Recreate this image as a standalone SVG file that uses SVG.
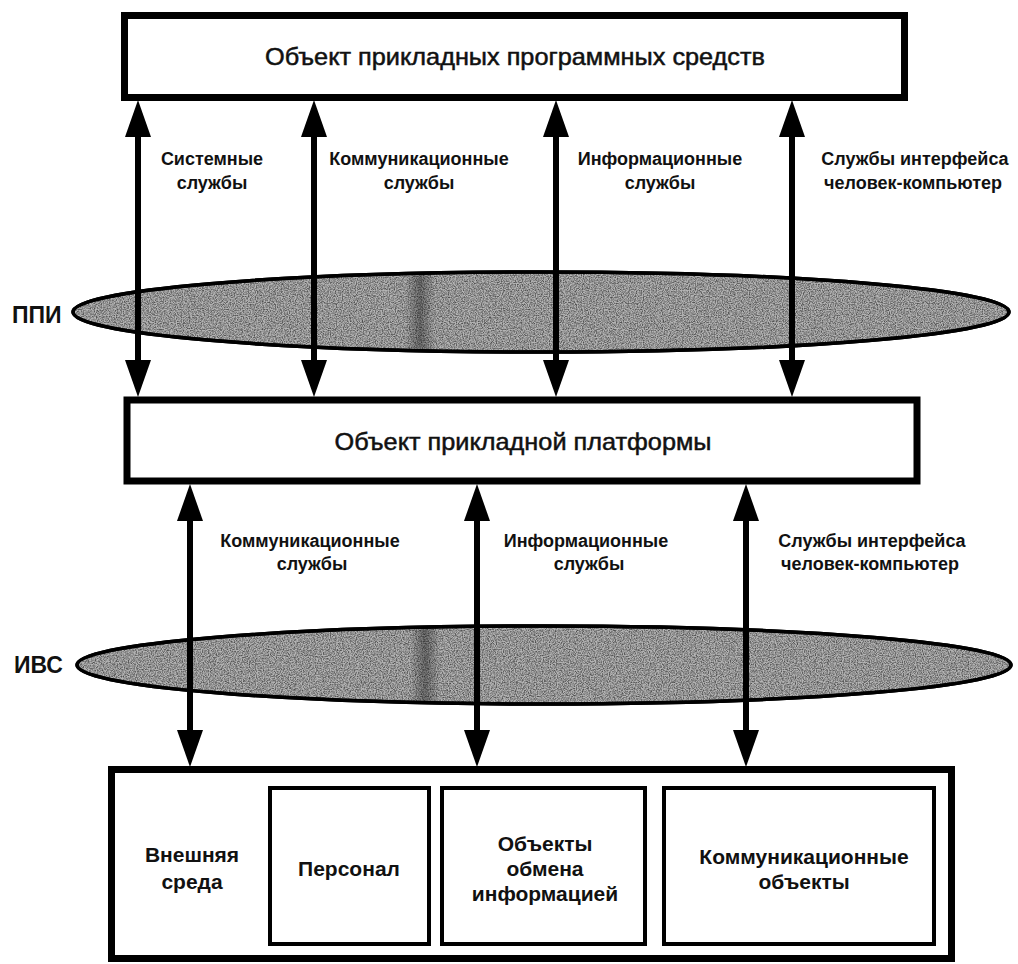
<svg xmlns="http://www.w3.org/2000/svg" width="1018" height="964" viewBox="0 0 1018 964">
  <style>
    .box { fill: #fff; stroke: #000; stroke-width: 7; }
    .inner { fill: #fff; stroke: #000; stroke-width: 4; }
    .title { font-family: "Liberation Sans", Arial, sans-serif; font-size: 24px; fill: #111; stroke: #111; stroke-width: 0.5; text-anchor: middle; }
    .lbl { font-family: "Liberation Sans", Arial, sans-serif; font-size: 18px; font-weight: bold; fill: #111; text-anchor: middle; }
    .big { font-family: "Liberation Sans", Arial, sans-serif; font-size: 21px; font-weight: bold; fill: #111; text-anchor: middle; }
    .side { font-family: "Liberation Sans", Arial, sans-serif; font-size: 23px; font-weight: bold; fill: #111; }
    .layer { fill: #b4b4b4; stroke: #000; stroke-width: 3.5; }
    .rim { fill: none; stroke: #000; stroke-width: 3.5; }
    .arrow { stroke: #000; stroke-width: 6; fill: none; marker-start: url(#head); marker-end: url(#head); }
  </style>
  <defs>
    <marker id="head" viewBox="0 -13 37 26" refX="0" refY="0" markerWidth="37" markerHeight="26" markerUnits="userSpaceOnUse" orient="auto-start-reverse">
      <path d="M0,-13 L37,0 L0,13 z" fill="#000"/>
    </marker>
    <!-- halftone-like stipple for the layer bands -->
    <filter id="grain" x="0" y="0" width="100%" height="100%">
      <feTurbulence type="fractalNoise" baseFrequency="0.85" numOctaves="2" seed="7" result="n"/>
      <feColorMatrix in="n" type="matrix" values="0 0 0 0 0  0 0 0 0 0  0 0 0 0 0  0 0 0 2.2 -0.75" result="dots"/>
      <feComposite in="dots" in2="SourceGraphic" operator="in"/>
    </filter>
    <linearGradient id="band" x1="0" x2="1" y1="0" y2="0">
      <stop offset="0" stop-color="#000" stop-opacity="0"/>
      <stop offset="0.5" stop-color="#000" stop-opacity="0.35"/>
      <stop offset="1" stop-color="#000" stop-opacity="0"/>
    </linearGradient>
    <clipPath id="clipPPI"><ellipse cx="541" cy="312" rx="468" ry="40"/></clipPath>
    <clipPath id="clipIVS"><ellipse cx="544" cy="665" rx="467" ry="39"/></clipPath>
  </defs>

  <!-- interface layers -->
  <g id="ppi">
    <ellipse class="layer" cx="541" cy="312" rx="468" ry="40"/>
    <ellipse cx="541" cy="312" rx="468" ry="40" fill="#000" filter="url(#grain)" opacity="0.55"/>
    <rect x="405" y="268" width="30" height="90" fill="url(#band)" clip-path="url(#clipPPI)"/>
    <ellipse class="rim" cx="541" cy="312" rx="468" ry="40"/>
    <text class="side" x="12" y="323">ППИ</text>
  </g>
  <g id="ivs">
    <ellipse class="layer" cx="544" cy="665" rx="467" ry="39"/>
    <ellipse cx="544" cy="665" rx="467" ry="39" fill="#000" filter="url(#grain)" opacity="0.55"/>
    <rect x="410" y="622" width="30" height="90" fill="url(#band)" clip-path="url(#clipIVS)"/>
    <ellipse class="rim" cx="544" cy="665" rx="467" ry="39"/>
    <text class="side" x="14" y="673">ИВС</text>
  </g>

  <!-- boxes -->
  <g id="app-software">
    <rect class="box" x="124.5" y="15.5" width="780" height="82"/>
    <text class="title" x="515" y="65" textLength="500" lengthAdjust="spacingAndGlyphs">Объект прикладных программных средств</text>
  </g>
  <g id="app-platform">
    <rect class="box" x="127" y="400" width="790" height="81"/>
    <text class="title" x="523" y="450" textLength="377" lengthAdjust="spacingAndGlyphs">Объект прикладной платформы</text>
  </g>
  <g id="environment">
    <rect class="box" x="111.5" y="769.5" width="840" height="189"/>
    <text class="big" x="192" y="862">Внешняя</text>
    <text class="big" x="192" y="889">среда</text>
  </g>
  <g id="personnel">
    <rect class="inner" x="270" y="788" width="159" height="156"/>
    <text class="big" x="349" y="876">Персонал</text>
  </g>
  <g id="info-exchange">
    <rect class="inner" x="442" y="788" width="203" height="156"/>
    <text class="big" x="545" y="851">Объекты</text>
    <text class="big" x="545" y="876">обмена</text>
    <text class="big" x="545" y="901">информацией</text>
  </g>
  <g id="comm-objects">
    <rect class="inner" x="664" y="788" width="270" height="156"/>
    <text class="big" x="804" y="864">Коммуникационные</text>
    <text class="big" x="804" y="889">объекты</text>
  </g>

  <!-- connectors -->
  <g id="connectors">
    <line class="arrow" x1="138" y1="137" x2="138" y2="360"/>
    <line class="arrow" x1="314" y1="137" x2="314" y2="360"/>
    <line class="arrow" x1="556" y1="137" x2="556" y2="360"/>
    <line class="arrow" x1="792" y1="137" x2="792" y2="360"/>
    <line class="arrow" x1="190" y1="521" x2="190" y2="730"/>
    <line class="arrow" x1="477" y1="521" x2="477" y2="730"/>
    <line class="arrow" x1="746" y1="521" x2="746" y2="730"/>
  </g>

  <!-- connector labels -->
  <g id="labels">
    <text class="lbl" x="212" y="165">Системные</text>
    <text class="lbl" x="212" y="189">службы</text>
    <text class="lbl" x="419" y="165">Коммуникационные</text>
    <text class="lbl" x="419" y="189">службы</text>
    <text class="lbl" x="660" y="165">Информационные</text>
    <text class="lbl" x="660" y="189">службы</text>
    <text class="lbl" x="915" y="165">Службы интерфейса</text>
    <text class="lbl" x="913" y="189">человек-компьютер</text>

    <text class="lbl" x="310" y="547">Коммуникационные</text>
    <text class="lbl" x="312" y="570">службы</text>
    <text class="lbl" x="586" y="547">Информационные</text>
    <text class="lbl" x="589" y="570">службы</text>
    <text class="lbl" x="872" y="547">Службы интерфейса</text>
    <text class="lbl" x="870" y="570">человек-компьютер</text>
  </g>
</svg>
